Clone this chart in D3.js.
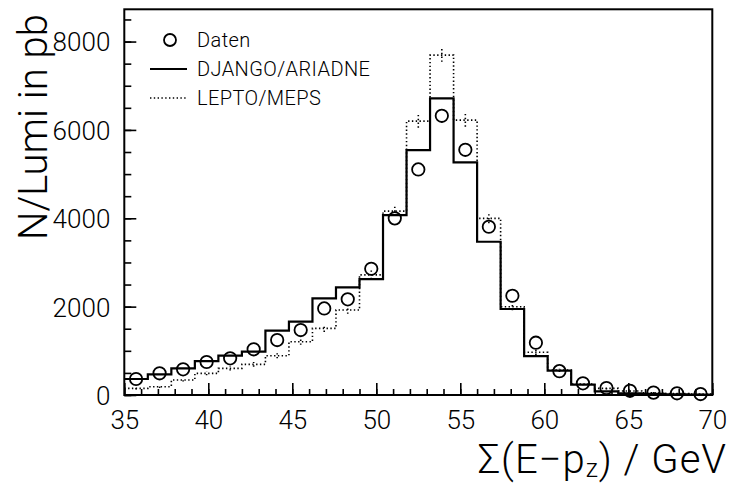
<!DOCTYPE html>
<html>
<head>
<meta charset="utf-8">
<script src="https://cdn.jsdelivr.net/npm/d3@7"></script>
<style>
  body { margin: 0; background: #fff; }
  svg text { font-family: Roboto, "Liberation Sans", Arial, sans-serif; font-weight: 300; fill: #000; }
</style>
</head>
<body>
<div id="chart"></div>
<script>
// DATA
const binLo = [35, 36.4, 37.8, 39.2, 40.6, 42, 43.4, 44.8, 46.2, 47.6, 49, 50.4, 51.8,
               53.2, 54.6, 56, 57.4, 58.8, 60.2, 61.6, 63, 64.4, 65.8, 67.2, 68.6];
const binHi = 70;
const daten = [362, 491, 581, 747, 830, 1034, 1244, 1470, 1960, 2165, 2858, 3998, 5106,
               6320, 5550, 3808, 2247, 1184, 540, 264, 158, 95, 54, 38, 22];
const datenErr = [20, 25, 25, 30, 30, 35, 40, 45, 50, 55, 65, 80, 110,
                  150, 120, 80, 55, 40, 25, 18, 14, 10, 8, 6, 5];
const django = [362, 468, 603, 769, 890, 980, 1455, 1659, 2187, 2436, 2624, 4072, 5543,
                6712, 5264, 3469, 1946, 882, 550, 235, 80, 40, 25, 15, 10];
const lepto = [151, 188, 339, 490, 603, 694, 890, 1206, 1508, 1923, 2720, 4163, 6199,
               7692, 6222, 3998, 1998, 966, 565, 250, 151, 90, 52, 35, 20];
const leptoErr = [25, 30, 35, 45, 50, 55, 60, 70, 80, 85, 100, 100, 150,
                  150, 150, 110, 80, 60, 45, 30, 25, 20, 15, 12, 10];
const xTicks = [35, 40, 45, 50, 55, 60, 65, 70];
const yTicks = [0, 2000, 4000, 6000, 8000];
const legendLabels = ['Daten', 'DJANGO/ARIADNE', 'LEPTO/MEPS'];

// SETTINGS
const width = 731, height = 483;
const margin = { top: 9.3, right: 18.7, bottom: 88, left: 124.3 };
const innerW = width - margin.left - margin.right;
const innerH = height - margin.top - margin.bottom;
const dotted = '1.4,2.4';
const radius = 6.2;

const svg = d3.select('#chart').append('svg')
    .attr('width', width)
    .attr('height', height);
const g = svg.append('g')
    .attr('transform', `translate(${margin.left},${margin.top})`);

const x = d3.scaleLinear().domain([35, 70]).range([0, innerW]);
const y = d3.scaleLinear().domain([0, 8730]).range([innerH, 0]);

// minor ticks
g.append('g')
    .attr('transform', `translate(0,${innerH})`)
    .call(d3.axisBottom(x).tickValues(d3.range(35, 71, 1)).tickSizeInner(-6).tickSizeOuter(0).tickFormat(''))
    .call(a => a.select('.domain').remove());
g.append('g')
    .call(d3.axisLeft(y).tickValues(d3.range(0, 8730, 500)).tickSizeInner(-7).tickSizeOuter(0).tickFormat(''))
    .call(a => a.select('.domain').remove());

// major ticks + labels
g.append('g')
    .attr('transform', `translate(0,${innerH})`)
    .call(d3.axisBottom(x).tickValues(xTicks).tickSizeInner(-12).tickSizeOuter(0).tickPadding(16).tickFormat(d3.format('d')))
    .call(a => a.select('.domain').remove())
    .call(a => a.selectAll('text').attr('font-size', 26));
g.append('g')
    .call(d3.axisLeft(y).tickValues(yTicks).tickSizeInner(-12).tickSizeOuter(0).tickPadding(14).tickFormat(d3.format('d')))
    .call(a => a.select('.domain').remove())
    .call(a => a.selectAll('text').attr('font-size', 26).attr('dy', '0.36em'));
g.selectAll('.tick line').attr('stroke', '#000').attr('stroke-width', 1.6);
g.selectAll('.tick text').attr('font-family', null);

// histograms
const step = d3.line()
    .x(d => x(d[0]))
    .y(d => y(d[1]))
    .curve(d3.curveStepAfter);
const toPts = vals => vals.map((v, i) => [binLo[i], v]).concat([[binHi, vals[vals.length - 1]]]);
const mid = i => (i < binLo.length - 1 ? (binLo[i] + binLo[i + 1]) / 2 : (binLo[i] + binHi) / 2);

g.append('path')
    .attr('d', step(toPts(lepto)))
    .attr('fill', 'none')
    .attr('stroke', '#000')
    .attr('stroke-width', 1.6)
    .attr('stroke-dasharray', dotted);
g.selectAll('.lepto-err')
    .data(lepto)
    .join('line')
    .attr('x1', (d, i) => x(mid(i)))
    .attr('x2', (d, i) => x(mid(i)))
    .attr('y1', (d, i) => y(d - leptoErr[i]))
    .attr('y2', (d, i) => y(d + leptoErr[i]))
    .attr('stroke', '#000')
    .attr('stroke-width', 1.6)
    .attr('stroke-dasharray', dotted);

g.append('path')
    .attr('d', step(toPts(django)))
    .attr('fill', 'none')
    .attr('stroke', '#000')
    .attr('stroke-width', 2.2);

// data points: error bars only drawn outside the marker
const errSegs = [];
daten.forEach((d, i) => {
    const cy = y(d), top = y(d + datenErr[i]), bot = y(d - datenErr[i]);
    if (cy - top > radius) errSegs.push([i, top, cy - radius]);
    if (bot - cy > radius) errSegs.push([i, cy + radius, bot]);
});
g.selectAll('.err')
    .data(errSegs)
    .join('line')
    .attr('x1', d => x(mid(d[0])))
    .attr('x2', d => x(mid(d[0])))
    .attr('y1', d => d[1])
    .attr('y2', d => d[2])
    .attr('stroke', '#000')
    .attr('stroke-width', 1.6);
g.selectAll('.pt')
    .data(daten)
    .join('circle')
    .attr('cx', (d, i) => x(mid(i)))
    .attr('cy', d => y(d))
    .attr('r', radius)
    .attr('fill', 'none')
    .attr('stroke', '#000')
    .attr('stroke-width', 1.8);

// frame
g.append('rect')
    .attr('width', innerW)
    .attr('height', innerH)
    .attr('fill', 'none')
    .attr('stroke', '#000')
    .attr('stroke-width', 2);

// legend
const legend = svg.append('g');
legend.append('circle')
    .attr('cx', 170).attr('cy', 40).attr('r', 6)
    .attr('fill', 'none').attr('stroke', '#000').attr('stroke-width', 1.8);
legend.append('line')
    .attr('x1', 150).attr('x2', 187).attr('y1', 69).attr('y2', 69)
    .attr('stroke', '#000').attr('stroke-width', 2);
legend.append('line')
    .attr('x1', 150).attr('x2', 187).attr('y1', 98).attr('y2', 98)
    .attr('stroke', '#000').attr('stroke-width', 1.6).attr('stroke-dasharray', dotted);
legend.selectAll('text')
    .data(legendLabels)
    .join('text')
    .attr('x', 197)
    .attr('y', (d, i) => 47 + i * 29)
    .attr('font-size', 20)
    .attr('letter-spacing', 0.4)
    .text(d => d);

// axis titles
svg.append('text')
    .attr('transform', 'translate(47,240) rotate(-90)')
    .attr('font-size', 40)
    .text('N/Lumi in pb');

const xt = svg.append('text')
    .attr('x', 727)
    .attr('y', 473)
    .attr('text-anchor', 'end')
    .attr('font-size', 40)
    .attr('letter-spacing', 1);
xt.append('tspan').text('Σ(E−p');
xt.append('tspan').attr('font-size', 25).attr('dy', 4).text('z');
xt.append('tspan').attr('dy', -4).text(') / GeV');
</script>
</body>
</html>
